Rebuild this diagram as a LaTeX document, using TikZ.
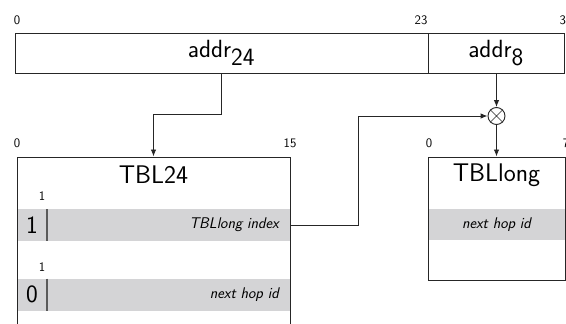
\documentclass[tikz,border=0pt]{standalone}
\usepackage{fontspec}
\usetikzlibrary{arrows.meta}
\definecolor{rowgrey}{HTML}{D4D4D6}
\definecolor{linegrey}{HTML}{262626}
\definecolor{sepgrey}{HTML}{5A5A5A}
\begin{document}
\begin{tikzpicture}[x=1pt,y=-1pt,
  font=\sffamily,
  field/.style={draw=linegrey,line width=1pt,inner sep=0pt,
    font=\sffamily\fontsize{24.88}{28}\selectfont},
  tablebox/.style={draw=linegrey,line width=1pt,inner sep=0pt},
  rowfill/.style={fill=rowgrey,inner sep=0pt},
  bignum/.style={font=\sffamily\fontsize{24.88}{28}\selectfont,inner sep=0pt},
  title/.style={font=\sffamily\fontsize{25.5}{28}\selectfont,inner sep=0pt},
  bitnum/.style={font=\sffamily\fontsize{13}{15}\selectfont,inner sep=0pt},
  entry/.style={font=\sffamily\itshape\fontsize{15.5}{17}\selectfont,inner sep=0pt},
  wire/.style={draw=linegrey,line width=0.9pt},
  arrow/.style={wire,-{Latex[length=7pt,width=5.5pt]}},
  sep/.style={draw=sepgrey,line width=1.6pt}]
\useasboundingbox (0,0) rectangle (566,324);
\clip (0,0) rectangle (566,324);

% address word split into its two fields
\node[field,minimum width=413pt,minimum height=40pt] (a24) at (221.5,53) {addr$_{\textsf{24}}$};
\node[field,minimum width=136pt,minimum height=40pt] (a8) at (496,53) {addr$_{\textsf{8}}$};
\node[bitnum] (b0) at (17,20) {0};
\node[bitnum] (b23) at (421,20) {23};
\node[bitnum] (b31) at (566,20) {31};

% first-level table
\node[tablebox,minimum width=273pt,minimum height=200pt] (tbl24) at (153.5,257) {};
\node[title] (t24) at (153.5,175) {TBL24};
\node[bitnum] (c0) at (17,143) {0};
\node[bitnum] (c15) at (290,143) {15};

\node[rowfill,minimum width=272pt,minimum height=32pt] (r1) at (153.5,225) {};
\node[rowfill,minimum width=272pt,minimum height=32pt] (r2) at (153.5,294.5) {};
\node[bitnum] (f1) at (42,196) {1};
\node[bitnum] (f2) at (42,267) {1};
\node[bignum] (v1) at (32,225) {1};
\node[bignum] (v2) at (32,294.5) {0};
\draw[sep] (47,209) -- (47,241);
\draw[sep] (47,278.5) -- (47,310.5);
\node[entry,anchor=east] (e1) at (279,225) {TBLlong index};
\node[entry,anchor=east] (e2) at (279,294.5) {next hop id};
\coordinate (r1out) at (290,225);

% second-level table
\node[tablebox,minimum width=137pt,minimum height=123pt] (tbll) at (496.5,218.5) {};
\node[title] (tl) at (496.5,175) {TBLlong};
\node[bitnum] (d0) at (429,143) {0};
\node[bitnum] (d7) at (566,143) {7};
\node[rowfill,minimum width=136pt,minimum height=31pt] (r3) at (496.5,224.5) {};
\node[entry] (e3) at (496.5,224.5) {next hop id};

% index combination
\node[draw=linegrey,line width=0.9pt,circle,minimum size=17pt,inner sep=0pt] (mul) at (496.5,116) {};
\draw[linegrey,line width=0.7pt] (mul.north west) -- (mul.south east) (mul.north east) -- (mul.south west);

% connectors
\draw[arrow] (a24.south) -- (a24.south |- 0,114) -| (tbl24.north);
\draw[arrow] (a8.south -| mul.north) -- (mul.north);
\draw[arrow] (mul.south) -- (tbll.north -| mul.south);
\draw[arrow] (r1out) -- (358,225) |- (mul.west);
\end{tikzpicture}
\end{document}
